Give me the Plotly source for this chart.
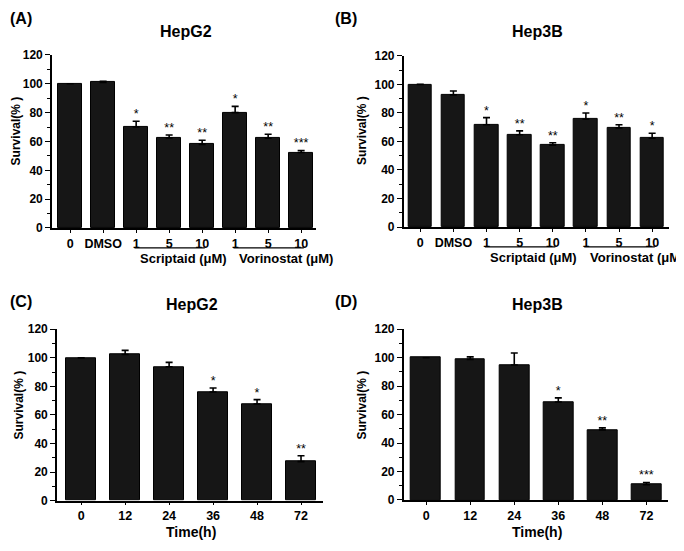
import plotly.graph_objects as go

FONT = "Liberation Sans, Arial, sans-serif"
# the page body has an 8px margin, so the figure is sized to fill the rest of the window
OFF = 8
W, H = 676, 535

# ---- data ----
A_TICKS = ["0", "DMSO", "1", "5", "10", "1", "5", "10"]
A_SURV = [100, 101, 70, 62.5, 58, 80, 62.2, 52.3]
A_ERR = [0, 0.8, 4, 2, 2.8, 4.3, 2.8, 1.4]
A_SIG = ["", "", "*", "**", "**", "*", "**", "***"]

B_TICKS = ["0", "DMSO", "1", "5", "10", "1", "5", "10"]
B_SURV = [100, 92.7, 71.7, 64.7, 57.4, 75.6, 69.5, 62.2]
B_ERR = [0, 2.7, 5, 2.7, 1.7, 4.4, 2.2, 3.6]
B_SIG = ["", "", "*", "**", "**", "*", "**", "*"]

C_TICKS = ["0", "12", "24", "36", "48", "72"]
C_SURV = [100, 102.3, 93.7, 76.1, 67.7, 27.3]
C_ERR = [0, 2.9, 3.1, 2.8, 3.0, 4.1]
C_SIG = ["", "", "", "*", "*", "**"]

D_TICKS = ["0", "12", "24", "36", "48", "72"]
D_SURV = [100, 98.8, 94.9, 68.9, 49.3, 10.7]
D_ERR = [0, 1.8, 8.4, 2.9, 1.4, 1.6]
D_SIG = ["", "", "", "*", "**", "***"]

DRUG_GROUPS = [("Scriptaid (μM)", 2, 4), ("Vorinostat (μM)", 5, 7)]

# panel geometry in window pixels: axis left/right, rows of y=0 / y=120, x range, bar width
PANELS = [
    dict(tag="(A)", title="HepG2", ticks=A_TICKS, vals=A_SURV, err=A_ERR, sig=A_SIG,
         groups=DRUG_GROUPS, xlab=None, box=(52, 316, 226.7, 49), xr=(-0.55, 7.45),
         bw=0.72, tag_xy=(8, 12), title_xy=(186, 25), ylab_xy=(15.5, 127)),
    dict(tag="(B)", title="Hep3B", ticks=B_TICKS, vals=B_SURV, err=B_ERR, sig=B_SIG,
         groups=DRUG_GROUPS, xlab=None, box=(403.7, 668.7, 225.7, 50), xr=(-0.5, 7.5),
         bw=0.71, tag_xy=(333, 12), title_xy=(537, 25), ylab_xy=(362, 127)),
    dict(tag="(C)", title="HepG2", ticks=C_TICKS, vals=C_SURV, err=C_ERR, sig=C_SIG,
         groups=[], xlab="Time(h)", box=(57, 323, 506.7, 330.7), xr=(-0.55, 5.5),
         bw=0.68, tag_xy=(8, 302), title_xy=(192, 305), ylab_xy=(19, 409)),
    dict(tag="(D)", title="Hep3B", ticks=D_TICKS, vals=D_SURV, err=D_ERR, sig=D_SIG,
         groups=[], xlab="Time(h)", box=(403.7, 668, 506, 330.7), xr=(-0.51, 5.49),
         bw=0.68, tag_xy=(333, 302), title_xy=(537, 305), ylab_xy=(362, 409)),
]


def px(x):
    return (x - OFF) / W


def py(y):
    return 1 - (y - OFF) / H


fig = go.Figure()
annotations = []
shapes = []

for i, p in enumerate(PANELS, start=1):
    sfx = "" if i == 1 else str(i)
    xs = list(range(len(p["vals"])))
    fig.add_trace(go.Bar(
        x=xs, y=p["vals"], width=p["bw"], xaxis="x" + sfx, yaxis="y" + sfx,
        marker=dict(color="#161616", line=dict(color="black", width=1)),
        error_y=dict(type="data", symmetric=False, array=p["err"],
                     arrayminus=[0] * len(xs), color="black", thickness=1.6, width=3.5),
        showlegend=False, hoverinfo="skip"))
    fig.add_trace(go.Scatter(
        x=xs, y=[v + e for v, e in zip(p["vals"], p["err"])], text=p["sig"],
        mode="text", textposition="top center", xaxis="x" + sfx, yaxis="y" + sfx,
        textfont=dict(family=FONT, size=12.5, color="black"),
        showlegend=False, hoverinfo="skip"))

    l, r, b, t = p["box"]
    fig.layout["xaxis" + sfx] = dict(
        domain=[px(l), px(r)], range=list(p["xr"]), anchor="y" + sfx,
        tickvals=xs, ticktext=p["ticks"], showline=True, linecolor="black", linewidth=1.6,
        ticks="outside", ticklen=3, tickwidth=1.4, tickcolor="black",
        tickfont=dict(family=FONT, size=12.5, color="black", weight="bold"),
        showgrid=False, zeroline=False, fixedrange=True)
    fig.layout["yaxis" + sfx] = dict(
        domain=[py(b), py(t)], range=[0, 120], anchor="x" + sfx,
        tickvals=[0, 20, 40, 60, 80, 100, 120], showline=True, linecolor="black",
        linewidth=1.6, ticks="outside", ticklen=5, tickwidth=1.4, tickcolor="black",
        minor=dict(tickvals=[10, 30, 50, 70, 90, 110], ticks="outside", ticklen=3,
                   tickwidth=1.2, tickcolor="black"),
        tickfont=dict(family=FONT, size=12, color="black", weight="bold"),
        showgrid=False, zeroline=False, fixedrange=True)

    annotations.append(dict(
        text="<b>" + p["tag"] + "</b>", x=px(p["tag_xy"][0]), y=py(p["tag_xy"][1]),
        xref="paper", yref="paper", xanchor="left", yanchor="middle", showarrow=False,
        font=dict(family=FONT, size=16, color="black")))
    annotations.append(dict(
        text="<b>" + p["title"] + "</b>", x=px(p["title_xy"][0]), y=py(p["title_xy"][1]),
        xref="paper", yref="paper", xanchor="center", yanchor="middle", showarrow=False,
        font=dict(family=FONT, size=16, color="black")))
    annotations.append(dict(
        text="<b>Survival(% )</b>", x=px(p["ylab_xy"][0]), y=py(p["ylab_xy"][1]),
        xref="paper", yref="paper", xanchor="center", yanchor="middle", showarrow=False,
        textangle=-90, font=dict(family=FONT, size=12, color="black")))
    if p["xlab"]:
        annotations.append(dict(
            text="<b>" + p["xlab"] + "</b>", x=px((l + r) / 2 + 1), y=py(b + 32.5),
            xref="paper", yref="paper", xanchor="center", yanchor="middle",
            showarrow=False, font=dict(family=FONT, size=14, color="black")))
    for name, g0, g1 in p["groups"]:
        shapes.append(dict(
            type="line", xref="x" + sfx, yref="paper", x0=g0 - 0.05, x1=g1 + 0.08,
            y0=py(b + 20.5), y1=py(b + 20.5), line=dict(color="black", width=1.3)))
        annotations.append(dict(
            text="<b>" + name + "</b>", x=g0 + 0.05, y=py(b + 31), xref="x" + sfx,
            yref="paper", xanchor="left", yanchor="middle", showarrow=False,
            font=dict(family=FONT, size=13, color="black")))

fig.update_layout(
    width=W, height=H, margin=dict(l=0, r=0, t=0, b=0),
    paper_bgcolor="white", plot_bgcolor="white",
    annotations=annotations, shapes=shapes, bargap=0)

fig.write_html("out.html")
